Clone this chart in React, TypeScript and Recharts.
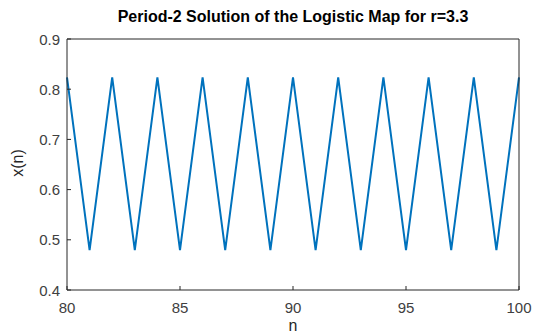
import React from 'react';
import { LineChart, Line, XAxis, YAxis } from 'recharts';

// iterates n = 80..100 of x(n+1) = r x(n) (1 - x(n)), r = 3.3, settled on the 2-cycle
const nValues = [80, 81, 82, 83, 84, 85, 86, 87, 88, 89, 90, 91, 92, 93, 94, 95, 96, 97, 98, 99, 100];
const xValues = [
  0.8236, 0.4794, 0.8236, 0.4794, 0.8236, 0.4794, 0.8236, 0.4794, 0.8236, 0.4794, 0.8236,
  0.4794, 0.8236, 0.4794, 0.8236, 0.4794, 0.8236, 0.4794, 0.8236, 0.4794, 0.8236,
];
const xTicks = [80, 85, 90, 95, 100];
const yTicks = [0.4, 0.5, 0.6, 0.7, 0.8, 0.9];

const chartData = nValues.map((n, i) => ({ n, x: xValues[i] }));

const FONT = '"Liberation Sans", Arial, Helvetica, sans-serif';
const AXIS = '#262626';
const PLOT_BOTTOM = 290;
const PLOT_LEFT = 67;

// matlab-style labels, placed by hand under/next to the inward ticks
const BottomTick = (props: any) => (
  <text x={props.x} y={PLOT_BOTTOM + 17} textAnchor="middle" dominantBaseline="central" fill="#404040" fontSize={15} fontFamily={FONT}>
    {props.payload.value}
  </text>
);

const LeftTick = (props: any) => (
  <text x={PLOT_LEFT - 7} y={props.y} textAnchor="end" dominantBaseline="central" fill="#404040" fontSize={15} fontFamily={FONT}>
    {Number(props.payload.value).toFixed(1)}
  </text>
);

const App: React.FC = () => {
  return (
    <div style={{ position: 'absolute', left: 0, top: 0, width: 540, height: 336, background: '#fff', fontFamily: FONT }}>
      <LineChart
        width={540}
        height={336}
        data={chartData}
        margin={{ top: 29, right: 11, bottom: 16, left: 27 }}
      >
        <XAxis
          xAxisId="bottom"
          dataKey="n"
          type="number"
          domain={[80, 100]}
          ticks={xTicks}
          height={30}
          stroke={AXIS}
          tickSize={-4}
          tick={<BottomTick />}
        />
        <XAxis
          xAxisId="top"
          orientation="top"
          dataKey="n"
          type="number"
          domain={[80, 100]}
          ticks={xTicks}
          height={10}
          stroke={AXIS}
          tickSize={-4}
          tick={false}
        />
        <YAxis
          yAxisId="left"
          type="number"
          domain={[0.4, 0.9]}
          ticks={yTicks}
          width={40}
          stroke={AXIS}
          tickSize={-4}
          tick={<LeftTick />}
        />
        <YAxis
          yAxisId="right"
          orientation="right"
          type="number"
          domain={[0.4, 0.9]}
          ticks={yTicks}
          width={10}
          stroke={AXIS}
          tickSize={-4}
          tick={false}
        />
        <Line
          xAxisId="bottom"
          yAxisId="left"
          dataKey="x"
          type="linear"
          stroke="#0072BD"
          strokeWidth={2}
          dot={false}
          isAnimationActive={false}
        />
      </LineChart>
      <div style={{ position: 'absolute', left: 67, width: 452, top: 8, textAlign: 'center', fontWeight: 'bold', fontSize: 16, color: '#000', lineHeight: '18px' }}>
        Period-2 Solution of the Logistic Map for r=3.3
      </div>
      <div style={{ position: 'absolute', left: 67, width: 452, top: 317, textAlign: 'center', fontSize: 16, color: '#262626', lineHeight: '18px' }}>
        n
      </div>
      <div style={{ position: 'absolute', left: 18, top: 163, transform: 'translate(-50%, -50%) rotate(-90deg)', fontSize: 16, color: '#262626', lineHeight: '18px', whiteSpace: 'nowrap' }}>
        x(n)
      </div>
    </div>
  );
};

export default App;
